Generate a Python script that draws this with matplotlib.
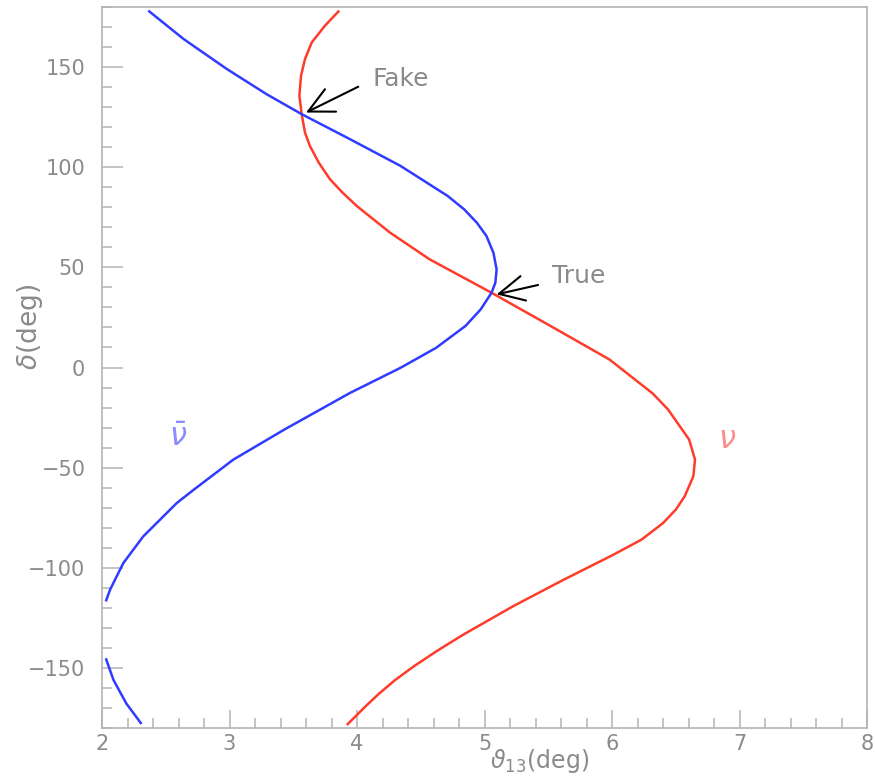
import matplotlib
matplotlib.use("Agg")
import matplotlib.pyplot as plt
from matplotlib.ticker import MultipleLocator

# Neutrino curve: theta13 (deg) versus delta (deg)
nu_delta = [178.2, 170.7, 162.3, 154, 145.7, 135.7, 126.5, 117.3, 110.7, 102.3,
            94, 87.3, 80.7, 67.3, 54, 37.3, 19, 4, -13, -21, -31, -36, -46,
            -54.3, -64.3, -71, -77.7, -86, -93.5, -106, -119, -133.5, -141,
            -149, -156, -163, -169, -178.5]
nu_theta = [3.861, 3.749, 3.645, 3.592, 3.561, 3.548, 3.566, 3.592, 3.630,
            3.700, 3.788, 3.887, 3.997, 4.26, 4.57, 5.056, 5.566, 5.98, 6.32,
            6.44, 6.55, 6.605, 6.651, 6.638, 6.57, 6.50, 6.40, 6.23, 6.01,
            5.62, 5.23, 4.83, 4.64, 4.45, 4.30, 4.17, 4.07, 3.92]

# Antineutrino curve, two visible branches
nubar_delta_a = [178.2, 164, 149, 136.5, 126.5, 114, 100.7, 85.7, 79, 72.3,
                 65.7, 57.3, 49, 42.3, 37.3, 29, 20.7, 9.8, -0.2, -12.7, -31,
                 -46, -61, -67.7, -76, -84.3, -91, -97.7, -104.3, -111, -116.8]
nubar_theta_a = [2.363, 2.64, 2.98, 3.29, 3.566, 3.945, 4.34, 4.71, 4.84, 4.94,
                 5.015, 5.07, 5.095, 5.085, 5.055, 4.97, 4.85, 4.62, 4.34,
                 3.945, 3.43, 3.03, 2.72, 2.586, 2.455, 2.324, 2.245, 2.167,
                 2.115, 2.063, 2.03]
nubar_delta_b = [-145.2, -156, -167.7, -178]
nubar_theta_b = [2.03, 2.09, 2.19, 2.31]

# Marked solutions
fake_point = (3.6, 127.3)
true_point = (5.095, 36.5)

x_ticks = [2, 3, 4, 5, 6, 7, 8]
y_ticks = [-150, -100, -50, 0, 50, 100, 150]

grey = "#8a8a8a"
axis_grey = "#b4b4b4"
red = "#ff3b2a"
blue = "#2f3cff"

fig = plt.figure(figsize=(8.75, 7.78), dpi=100)
ax = fig.add_axes([102 / 875, 50 / 778, 765 / 875, 721 / 778])

line_kw = dict(lw=1.8, solid_joinstyle="round", solid_capstyle="butt")
ax.plot(nu_theta, nu_delta, color=red, **line_kw)
ax.plot(nubar_theta_a, nubar_delta_a, color=blue, **line_kw)
ax.plot(nubar_theta_b, nubar_delta_b, color=blue, **line_kw)

ax.set_xlim(2, 8)
ax.set_ylim(-180, 180)
ax.set_xticks(x_ticks)
ax.set_yticks(y_ticks)
ax.set_xticklabels([str(v) for v in x_ticks])
ax.set_yticklabels(["\u2212" + str(-v) if v < 0 else str(v) for v in y_ticks])
ax.xaxis.set_minor_locator(MultipleLocator(0.2))
ax.yaxis.set_minor_locator(MultipleLocator(10))

for s in ax.spines.values():
    s.set_color(axis_grey)
    s.set_linewidth(1.2)

ax.tick_params(which="both", direction="in", color=axis_grey, width=1.1,
               top=False, right=False, labelcolor=grey, labelsize=15)
ax.tick_params(axis="y", which="major", length=15, pad=12)
ax.tick_params(axis="y", which="minor", length=7.5)
ax.tick_params(axis="x", which="major", length=13, pad=4)
ax.tick_params(axis="x", which="minor", length=7)

arrow = dict(arrowstyle="->,head_length=0.6,head_width=0.3", color="black",
             lw=1.5, mutation_scale=30, shrinkA=0, shrinkB=0)
ax.annotate("", xy=fake_point, xytext=(4.01, 140.2), arrowprops=arrow)
ax.annotate("", xy=true_point, xytext=(5.42, 41.2), arrowprops=arrow)
ax.text(4.125, 144, "Fake", color=grey, fontsize=18, ha="left", va="center")
ax.text(5.527, 45.7, "True", color=grey, fontsize=18, ha="left", va="center")

ax.text(2.6, -35, r"$\bar{\nu}$", color="#8c8cff", fontsize=22,
        ha="center", va="center")
ax.text(6.906, -36, r"$\nu$", color="#ff8c8c", fontsize=22,
        ha="center", va="center")

fig.text(490 / 875, 3 / 778, r"$\vartheta_{13}$(deg)", color=grey,
         fontsize=17, ha="left", va="bottom")
fig.text(30 / 875, 1 - 327 / 778, r"$\delta$(deg)", color=grey, fontsize=19,
         rotation=90, ha="center", va="center")

fig.savefig("out.png", dpi=100)
